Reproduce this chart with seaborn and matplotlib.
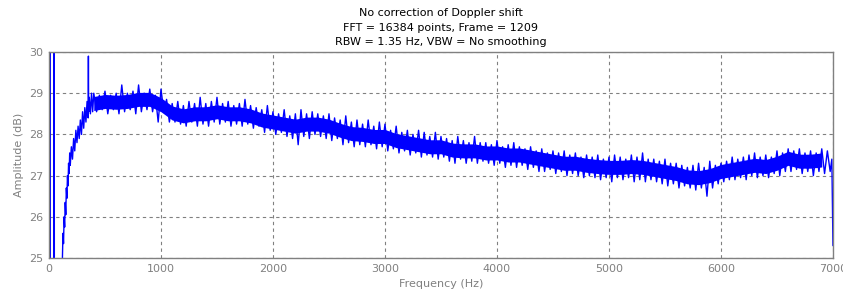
import numpy as np
import pandas as pd
import seaborn as sns
import matplotlib
matplotlib.use("Agg")
import matplotlib.pyplot as plt

# low-frequency part: DC spikes and the rising edge (Hz, dB)
rise_hz = [0, 8, 9, 10, 45, 46, 47, 48, 115, 120, 125, 130, 135, 140, 145, 150,
           155, 160, 165, 170, 175, 180, 185, 190, 200, 210, 220, 230, 240, 250,
           260, 270, 280, 290, 300, 310, 320, 330, 340, 350, 352, 354, 360, 370,
           380, 390]
rise_db = [24, 24, 31, 24, 24, 31, 31, 24, 24, 25.0, 25.6, 25.35, 26.0, 25.75,
           26.35, 26.05, 26.7, 26.45, 27.0, 26.75, 27.3, 27.05, 27.55, 27.25,
           27.7, 27.4, 27.9, 27.6, 28.1, 27.8, 28.2, 27.9, 28.35, 28.0, 28.55,
           28.15, 28.65, 28.3, 28.8, 28.4, 29.9, 28.55, 28.9, 28.5, 29.0, 28.55]

# core of the noise band, every 100 Hz from 400 to 6900
core_hz = np.arange(400, 6901, 100)
band_hi = [28.92, 28.97, 28.95, 28.97, 29.02, 29.02, 28.89, 28.69, 28.62, 28.67,
           28.67, 28.72, 28.67, 28.67, 28.62, 28.52, 28.47, 28.42, 28.37, 28.42,
           28.42, 28.37, 28.27, 28.19, 28.17, 28.12, 28.12, 28.02, 27.97, 27.92,
           27.87, 27.87, 27.79, 27.77, 27.77, 27.72, 27.72, 27.67, 27.67, 27.62,
           27.57, 27.52, 27.47, 27.47, 27.42, 27.39, 27.37, 27.37, 27.39, 27.37,
           27.32, 27.27, 27.22, 27.14, 27.12, 27.17, 27.27, 27.32, 27.37, 27.42,
           27.39, 27.47, 27.59, 27.52, 27.52, 27.55]
band_lo = [28.58, 28.63, 28.61, 28.63, 28.68, 28.68, 28.55, 28.35, 28.28, 28.33,
           28.33, 28.38, 28.33, 28.33, 28.28, 28.18, 28.13, 28.08, 28.03, 28.08,
           28.08, 28.03, 27.93, 27.85, 27.83, 27.78, 27.78, 27.68, 27.63, 27.58,
           27.53, 27.53, 27.45, 27.43, 27.43, 27.38, 27.38, 27.33, 27.33, 27.28,
           27.23, 27.18, 27.13, 27.13, 27.08, 27.05, 27.03, 27.03, 27.05, 27.03,
           26.98, 26.93, 26.88, 26.80, 26.78, 26.83, 26.93, 26.98, 27.03, 27.08,
           27.05, 27.13, 27.25, 27.18, 27.18, 27.21]

# upper peaks of the trace every 50 Hz (400..6950 Hz)
peak_hi = [29.0, 28.95, 29.05, 28.95, 29.0, 29.2, 29.0, 29.05, 29.2, 29.0,
           29.1, 28.95, 29.1, 28.85, 28.75, 28.8, 28.7, 28.8, 28.75, 28.9,
           28.75, 28.8, 28.9, 28.75, 28.8, 28.7, 28.75, 28.85, 28.7, 28.65,
           28.6, 28.7, 28.55, 28.5, 28.6, 28.45, 28.5, 28.6, 28.5, 28.55,
           28.5, 28.45, 28.5, 28.4, 28.35, 28.45, 28.3, 28.35, 28.25, 28.35,
           28.2, 28.3, 28.25, 28.1, 28.2, 28.05, 28.1, 28.0, 28.1, 28.05,
           27.95, 28.05, 27.95, 27.9, 27.85, 27.95, 27.85, 27.8, 27.95, 27.8,
           27.8, 27.75, 27.85, 27.7, 27.75, 27.8, 27.7, 27.65, 27.7, 27.6,
           27.65, 27.55, 27.6, 27.55, 27.6, 27.5, 27.55, 27.45, 27.5, 27.45,
           27.5, 27.4, 27.45, 27.5, 27.45, 27.4, 27.5, 27.45, 27.55, 27.4,
           27.4, 27.35, 27.4, 27.3, 27.3, 27.25, 27.2, 27.25, 27.3, 27.2,
           27.35, 27.25, 27.3, 27.35, 27.45, 27.4, 27.45, 27.5, 27.55, 27.45,
           27.5, 27.45, 27.6, 27.55, 27.65, 27.6, 27.65, 27.55, 27.6, 27.55,
           27.65, 27.6]
# lower troughs of the trace every 50 Hz (425..6975 Hz)
peak_lo = [28.55, 28.6, 28.5, 28.6, 28.5, 28.55, 28.6, 28.5, 28.55, 28.6,
           28.55, 28.3, 28.55, 28.3, 28.3, 28.25, 28.2, 28.3, 28.2, 28.25,
           28.2, 28.3, 28.25, 28.3, 28.2, 28.25, 28.2, 28.25, 28.15, 28.2,
           28.05, 28.1, 28.0, 28.05, 27.95, 27.9, 27.75, 27.95, 27.9, 28.0,
           27.95, 27.9, 27.85, 27.9, 27.75, 27.8, 27.7, 27.75, 27.7, 27.75,
           27.65, 27.7, 27.6, 27.65, 27.55, 27.6, 27.5, 27.55, 27.45, 27.5,
           27.45, 27.4, 27.45, 27.35, 27.3, 27.4, 27.3, 27.35, 27.3, 27.35,
           27.3, 27.25, 27.3, 27.2, 27.25, 27.2, 27.25, 27.15, 27.2, 27.1,
           27.1, 27.15, 27.05, 27.1, 27.0, 27.05, 27.0, 26.95, 27.0, 26.95,
           26.9, 26.95, 26.85, 26.95, 26.9, 26.95, 26.85, 26.9, 26.85, 26.9,
           26.85, 26.8, 26.75, 26.8, 26.7, 26.75, 26.7, 26.65, 26.7, 26.5,
           26.7, 26.8, 26.85, 26.9, 26.9, 26.95, 26.9, 27.0, 26.95, 27.0,
           26.95, 27.05, 27.0, 27.1, 27.1, 27.15, 27.05, 27.1, 27.0, 27.1,
           27.05, 27.1]

# last bins at 7 kHz
tail_hz = [6990, 7000]
tail_db = [27.4, 25.3]

peak_hz = np.arange(400, 6951, 50)
assert len(band_hi) == len(band_lo) == len(core_hz)
assert len(peak_hi) == len(peak_lo) == len(peak_hz)

mid_hz, mid_db = [], []
for f, hi, lo in zip(peak_hz, peak_hi, peak_lo):
    mid_hz += [f, f + 25]
    mid_db += [hi, lo]

spec = pd.DataFrame({
    "Frequency (Hz)": rise_hz + mid_hz + tail_hz,
    "Amplitude (dB)": rise_db + mid_db + tail_db,
})

sns.set_theme(style="white")
plt.rcParams["font.family"] = ["DejaVu Sans"]

grey = "#808080"
fig = plt.figure(figsize=(8.43, 2.92), dpi=100)
ax = fig.add_axes([0.0581, 0.1164, 0.93, 0.7055])

ax.fill_between(core_hz, band_lo, band_hi, color="#0000ff", lw=0)
sns.lineplot(data=spec, x="Frequency (Hz)", y="Amplitude (dB)", sort=False,
             estimator=None, color="#0000ff", lw=1.0, ax=ax)

ax.set_xlim(0, 7000)
ax.set_ylim(25, 30)
ax.set_xticks(range(0, 7001, 1000))
ax.set_yticks(range(25, 31))
ax.grid(True, color=grey, ls=(0, (3, 3)), lw=0.8)
ax.set_axisbelow(True)
ax.tick_params(length=0, labelsize=8, labelcolor=grey, pad=4)
for s in ax.spines.values():
    s.set_color(grey)
    s.set_linewidth(1)

ax.set_xlabel("Frequency (Hz)", fontsize=8, color=grey, labelpad=4)
ax.set_ylabel("Amplitude (dB)", fontsize=8, color=grey, labelpad=4)
ax.set_title("No correction of Doppler shift\nFFT = 16384 points, Frame = 1209\n"
             "RBW = 1.35 Hz, VBW = No smoothing", fontsize=8, color="black",
             linespacing=1.55, pad=5)

fig.savefig("out.png", dpi=100)
